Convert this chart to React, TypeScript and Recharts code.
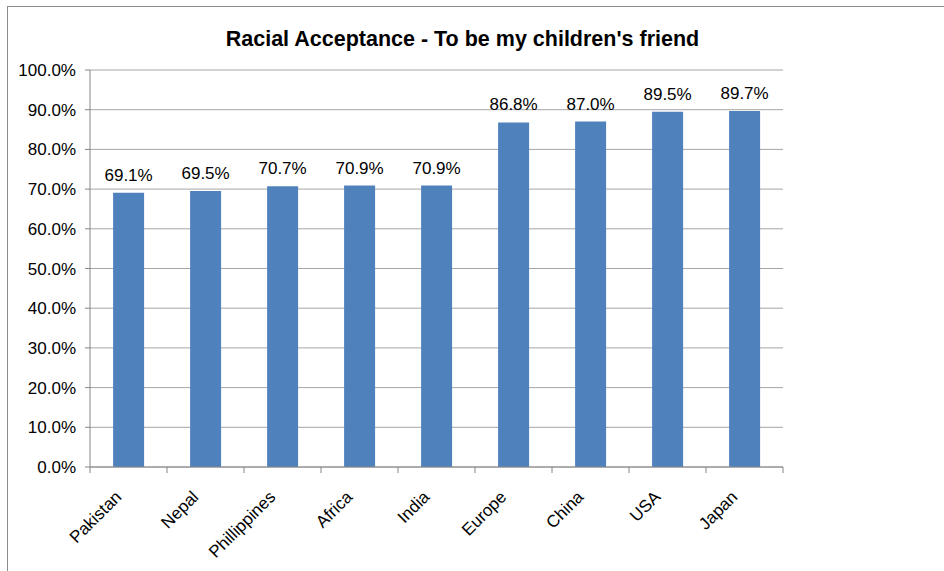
import React from 'react';
import {
  BarChart,
  Bar,
  XAxis,
  YAxis,
  CartesianGrid,
  LabelList,
} from 'recharts';

const countries = ['Pakistan', 'Nepal', 'Phillippines', 'Africa', 'India', 'Europe', 'China', 'USA', 'Japan'];
const acceptance = [0.691, 0.695, 0.707, 0.709, 0.709, 0.868, 0.87, 0.895, 0.897];
const yTicks = [0, 0.1, 0.2, 0.3, 0.4, 0.5, 0.6, 0.7, 0.8, 0.9, 1];

const data = countries.map((country, i) => ({ country, value: acceptance[i] }));

const pct = (v: number) => `${(v * 100).toFixed(1)}%`;
const font = 'Liberation Sans, Arial, sans-serif';

// rotated label plus Excel-style tick marks on the category boundaries
const CountryTick = (props: any) => {
  const { x, y, payload, index, width, visibleTicksCount } = props;
  const half = width / visibleTicksCount / 2;
  const last = index === visibleTicksCount - 1;
  return (
    <g>
      <line x1={x - half} x2={x - half} y1={y} y2={y + 6} stroke="#868686" />
      {last && <line x1={x + half} x2={x + half} y1={y} y2={y + 6} stroke="#868686" />}
      <g transform={`translate(${x - 6},${y + 31})`}>
        <text
          x={0}
          y={0}
          textAnchor="end"
          transform="rotate(-45)"
          fill="#000"
          fontSize={17}
          fontFamily={font}
        >
          {payload.value}
        </text>
      </g>
    </g>
  );
};

const App: React.FC = () => {
  return (
    <div
      style={{
        position: 'fixed',
        left: 0,
        top: 0,
        width: 944,
        height: 571,
        overflow: 'hidden',
        background: '#fff',
        fontFamily: font,
      }}
    >
      <div
        style={{
          position: 'absolute',
          left: 7,
          top: 6,
          width: 1000,
          height: 700,
          borderLeft: '1px solid #8c8c8c',
          borderTop: '1px solid #8c8c8c',
        }}
      />
      <div
        style={{
          position: 'absolute',
          left: 0,
          top: 27,
          width: 925,
          textAlign: 'center',
          fontSize: 21.5,
          fontWeight: 'bold',
          color: '#000',
          whiteSpace: 'nowrap',
        }}
      >
        Racial Acceptance - To be my children's friend
      </div>
      <div style={{ position: 'absolute', left: 0, top: 0 }}>
        <BarChart
          width={944}
          height={571}
          data={data}
          margin={{ top: 70, right: 161, bottom: 0, left: 0 }}
          barCategoryGap="30%"
        >
          <CartesianGrid vertical={false} stroke="#a6a6a6" />
          <XAxis
            dataKey="country"
            height={104}
            interval={0}
            tickLine={false}
            tickSize={0}
            tickMargin={0}
            axisLine={{ stroke: '#868686' }}
            tick={<CountryTick />}
          />
          <YAxis
            width={90}
            domain={[0, 1]}
            ticks={yTicks}
            tickFormatter={pct}
            tickSize={5}
            tickMargin={9}
            axisLine={{ stroke: '#868686' }}
            tickLine={{ stroke: '#868686' }}
            tick={{ fill: '#000', fontSize: 17, fontFamily: font }}
          />
          <Bar dataKey="value" fill="#4f81bd" isAnimationActive={false}>
            <LabelList
              dataKey="value"
              position="top"
              offset={12}
              formatter={(v: number) => pct(v)}
              fill="#000"
              fontSize={17}
              fontFamily={font}
            />
          </Bar>
        </BarChart>
      </div>
    </div>
  );
};

export default App;
